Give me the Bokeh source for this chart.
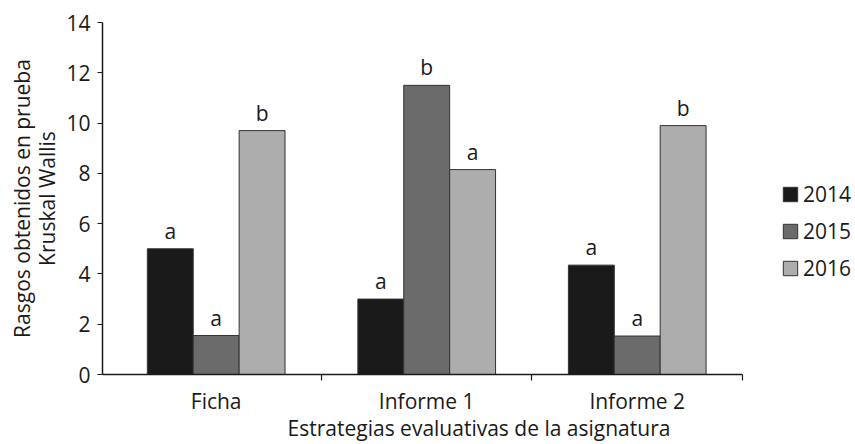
from bokeh.plotting import figure
from bokeh.models import ColumnDataSource, FixedTicker, Legend, LegendItem, Range1d
from bokeh.transform import dodge
from bokeh.core.properties import value
from bokeh.embed import file_html
from bokeh.resources import INLINE

categories = ["Ficha", "Informe 1", "Informe 2"]
years = ["2014", "2015", "2016"]
v2014 = [5.0, 3.0, 4.35]
v2015 = [1.55, 11.5, 1.53]
v2016 = [9.7, 8.15, 9.9]
l2014 = ["a", "a", "a"]
l2015 = ["a", "b", "a"]
l2016 = ["b", "a", "b"]
colors = ["#1a1a1a", "#6b6b6b", "#adadad"]

FONT = "Open Sans"
TXT = "#1a1a1a"
FS = "21px"

W, H = 855, 444
LEFT, TOP, BOTTOM, RIGHT = 102, 22, 69, 0
x_start = -0.54
x_end_axis = 2.5
px_per_unit = 640 / (x_end_axis - x_start)
frame_w = W - LEFT - RIGHT
p = figure(width=W, height=H, output_backend="svg", toolbar_location=None,
           x_range=Range1d(x_start, x_start + frame_w / px_per_unit), y_range=Range1d(0, 14),
           min_border_left=LEFT, min_border_right=RIGHT, min_border_top=TOP, min_border_bottom=BOTTOM)
p.outline_line_color = None
p.xgrid.grid_line_color = None
p.ygrid.grid_line_color = None
p.background_fill_color = "white"
p.border_fill_color = "white"

src = ColumnDataSource(dict(x=[0, 1, 2], v2014=v2014, v2015=v2015, v2016=v2016,
                            l2014=l2014, l2015=l2015, l2016=l2016))

w = 0.218
offs = [-0.218, 0.0, 0.218]
renderers = []
for yr, off, col in zip(years, offs, colors):
    r = p.vbar(x=dodge("x", off), top="v" + yr, width=w, bottom=0, source=src,
               fill_color=col, line_color="#333333", line_width=1)
    renderers.append(r)
    p.text(x=dodge("x", off), y="v" + yr, text="l" + yr, source=src,
           text_align="center", text_baseline="bottom", y_offset=-4,
           text_font=value(FONT), text_font_size=FS, text_color=TXT)

# axes
p.xaxis.ticker = FixedTicker(ticks=[0, 1, 2], minor_ticks=[0.5, 1.5, 2.5])
p.xaxis.bounds = (x_start, x_end_axis)
p.xaxis.major_label_overrides = {0: categories[0], 1: categories[1], 2: categories[2]}
p.xaxis.major_tick_out = 0
p.xaxis.major_tick_in = 0
p.xaxis.minor_tick_out = 6
p.xaxis.minor_tick_in = 0
p.xaxis.axis_label = "Estrategias evaluativas de la asignatura"

p.yaxis.ticker = FixedTicker(ticks=[0, 2, 4, 6, 8, 10, 12, 14])
p.yaxis.minor_tick_out = 0
p.yaxis.minor_tick_in = 0
p.yaxis.major_tick_out = 5
p.yaxis.major_tick_in = 0
p.yaxis.axis_label = "Rasgos obtenidos en prueba\nKruskal Wallis"

for ax in (p.xaxis[0], p.yaxis[0]):
    ax.axis_line_color = "#1a1a1a"
    ax.axis_line_width = 1.5
    ax.major_tick_line_color = "#1a1a1a"
    ax.minor_tick_line_color = "#1a1a1a"
    ax.major_tick_line_width = 1.2
    ax.minor_tick_line_width = 1.2
    ax.major_label_text_font = FONT
    ax.major_label_text_font_size = FS
    ax.major_label_text_color = TXT
    ax.axis_label_text_font = FONT
    ax.axis_label_text_font_size = FS
    ax.axis_label_text_font_style = "normal"
    ax.axis_label_text_color = TXT

p.yaxis.axis_label_text_line_height = 0.9
p.xaxis.major_label_standoff = 6
p.xaxis.axis_label_standoff = -4
p.yaxis.major_label_standoff = 7
p.yaxis.axis_label_standoff = 2

legend = Legend(items=[LegendItem(label=yr, renderers=[r]) for yr, r in zip(years, renderers)],
                location=(679, 92), orientation="vertical")
legend.margin = 0
legend.padding = 0
legend.border_line_color = None
legend.background_fill_alpha = 0
legend.glyph_width = 18
legend.glyph_height = 18
legend.label_height = 18
legend.spacing = 9
legend.label_standoff = 4
legend.label_text_font = FONT
legend.label_text_font_size = FS
legend.label_text_color = TXT
p.add_layout(legend, "center")

open("out.html", "w").write(file_html(p, INLINE))
